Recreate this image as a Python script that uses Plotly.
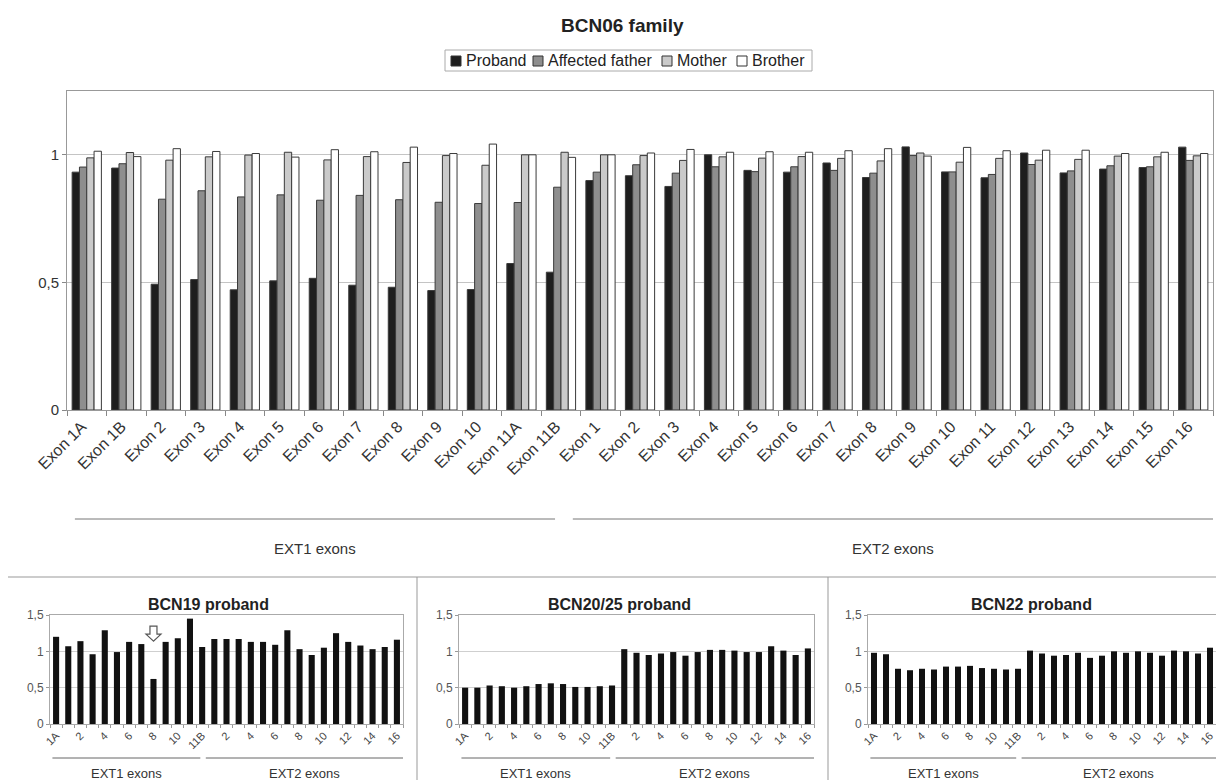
import plotly.graph_objects as go

# Exon names for the two genes
ext1_exons = ["1A", "1B", "2", "3", "4", "5", "6", "7", "8", "9", "10", "11A", "11B"]
ext2_exons = ["1", "2", "3", "4", "5", "6", "7", "8", "9", "10", "11", "12", "13", "14", "15", "16"]

# BCN06 family: relative dosage per exon (EXT1 exons followed by EXT2 exons)
proband = [0.932, 0.948, 0.493, 0.511, 0.471, 0.506, 0.516, 0.489, 0.481, 0.468, 0.472, 0.574, 0.540,
           0.899, 0.918, 0.876, 1.000, 0.939, 0.932, 0.968, 0.911, 1.031, 0.933, 0.910, 1.007, 0.929,
           0.944, 0.950, 1.030]
father = [0.952, 0.965, 0.826, 0.859, 0.835, 0.843, 0.822, 0.841, 0.824, 0.814, 0.809, 0.813, 0.873,
          0.932, 0.961, 0.928, 0.953, 0.934, 0.953, 0.939, 0.928, 0.997, 0.933, 0.923, 0.962, 0.937,
          0.957, 0.953, 0.978]
mother = [0.988, 1.009, 0.979, 0.992, 0.999, 1.010, 0.980, 0.993, 0.970, 0.997, 0.959, 1.000, 1.010,
          1.000, 0.997, 0.978, 0.992, 0.987, 0.993, 0.986, 0.976, 1.007, 0.971, 0.986, 0.979, 0.982,
          0.995, 0.992, 0.996]
brother = [1.014, 0.993, 1.024, 1.013, 1.005, 0.991, 1.020, 1.012, 1.030, 1.005, 1.042, 1.000, 0.990,
           1.000, 1.007, 1.021, 1.010, 1.012, 1.010, 1.016, 1.024, 0.995, 1.029, 1.016, 1.018, 1.018,
           1.005, 1.010, 1.005]

# Single probands
bcn19 = [1.20, 1.07, 1.14, 0.96, 1.29, 0.99, 1.13, 1.10, 0.62, 1.13, 1.18, 1.45, 1.06,
         1.17, 1.17, 1.17, 1.13, 1.13, 1.09, 1.29, 1.03, 0.95, 1.05, 1.25, 1.13, 1.08, 1.03, 1.06, 1.16]
bcn2025 = [0.50, 0.50, 0.53, 0.52, 0.50, 0.52, 0.55, 0.56, 0.55, 0.51, 0.51, 0.52, 0.53,
           1.03, 0.98, 0.95, 0.97, 0.99, 0.94, 0.99, 1.02, 1.02, 1.01, 0.99, 0.99, 1.07, 1.01, 0.95, 1.04]
bcn22 = [0.98, 0.96, 0.76, 0.74, 0.76, 0.75, 0.79, 0.79, 0.80, 0.77, 0.76, 0.75, 0.76,
         1.01, 0.97, 0.94, 0.95, 0.98, 0.91, 0.94, 1.00, 0.98, 1.00, 0.98, 0.94, 1.01, 1.00, 0.97, 1.05]

family_members = ["Proband", "Affected father", "Mother", "Brother"]
member_colors = ["#1e1e1e", "#8e8e8e", "#cacaca", "#ffffff"]

W, H = 1216, 780
FONT = "Liberation Sans, Arial, sans-serif"


def px_x(v):
    return v / W


def px_y(v):
    return 1 - v / H


cats = ["EXT1 " + e for e in ext1_exons] + ["EXT2 " + e for e in ext2_exons]
n1, n = len(ext1_exons), len(cats)
top_text = ["Exon " + e for e in ext1_exons + ext2_exons]
short_text = [e if i % 2 == 0 else "" for i, e in enumerate(ext1_exons + ext2_exons)]

fig = go.Figure()

for name, vals, col in zip(family_members, [proband, father, mother, brother], member_colors):
    fig.add_trace(go.Bar(x=cats, y=vals, name=name, showlegend=False,
                         marker=dict(color=col, line=dict(color="#3a3a3a", width=1)),
                         xaxis="x", yaxis="y"))

panels = [("BCN19 proband", bcn19, "2"), ("BCN20/25 proband", bcn2025, "3"), ("BCN22 proband", bcn22, "4")]
for title, vals, k in panels:
    fig.add_trace(go.Bar(x=cats, y=vals, width=0.5, showlegend=False, name=title,
                         marker=dict(color="#111111", line=dict(width=0)),
                         xaxis="x" + k, yaxis="y" + k))

layout = dict(
    template="none",
    width=W, height=H,
    margin=dict(l=0, r=0, t=0, b=0),
    paper_bgcolor="white", plot_bgcolor="white",
    font=dict(family=FONT, color="#222"),
    separators=",.",
    barmode="group", bargap=0.26, bargroupgap=0,
    showlegend=False,
)

# main chart axes
layout["xaxis"] = dict(domain=[px_x(67), px_x(1213)], type="category", tickmode="array", tickvals=cats,
                       ticktext=top_text, tickangle=-45, tickson="boundaries", ticks="outside", ticklen=5,
                       tickcolor="#888", showline=True, mirror=True, linecolor="#999", linewidth=1,
                       showgrid=False, automargin=False, tickfont=dict(size=16, color="#333"),
                       ticklabelshift=-5, range=[-0.5, n - 0.5], anchor="y")
layout["yaxis"] = dict(domain=[px_y(410), px_y(91)], range=[0, 1.25], tickvals=[0, 0.5, 1], ticks="outside",
                       ticklen=4, tickcolor="#888", showline=True, mirror=True, linecolor="#999", linewidth=1,
                       showgrid=True, gridcolor="#c4c4c4", zeroline=False, automargin=False,
                       tickfont=dict(size=15, color="#333"), anchor="x")

panel_x = {"2": (50, 403), "3": (459, 814), "4": (868, 1216)}
panel_title_x = {"2": 208, "3": 619, "4": 1031}
for title, vals, k in panels:
    x0, x1 = panel_x[k]
    layout["xaxis" + k] = dict(domain=[px_x(x0), px_x(x1)], type="category", tickmode="array", tickvals=cats,
                               ticktext=short_text, tickangle=-45, tickson="boundaries", ticks="outside",
                               ticklen=3, tickcolor="#999", showline=True, mirror=True, linecolor="#aaa",
                               linewidth=1, showgrid=False, automargin=False,
                               tickfont=dict(size=11, color="#444"), range=[-0.5, n - 0.5], anchor="y" + k)
    layout["yaxis" + k] = dict(domain=[px_y(724), px_y(615)], range=[0, 1.5], tickvals=[0, 0.5, 1, 1.5],
                               ticks="outside", ticklen=3, tickcolor="#999", showline=True, mirror=True,
                               linecolor="#aaa", linewidth=1, showgrid=True, gridcolor="#cfcfcf",
                               zeroline=False, automargin=False, tickfont=dict(size=12, color="#555"),
                               anchor="x" + k)

fig.update_layout(**layout)

annotations = [dict(text="<b>BCN06 family</b>", x=px_x(622), y=px_y(26), xref="paper", yref="paper",
                    xanchor="center", yanchor="middle", showarrow=False, font=dict(size=19, color="#222"))]
shapes = []

# legend box with colour keys
shapes.append(dict(type="rect", xref="paper", yref="paper", x0=px_x(445), x1=px_x(812),
                   y0=px_y(71), y1=px_y(50), line=dict(color="#aaa", width=1), fillcolor="white"))
key_x = [451, 533, 662, 737]
for name, col, kx in zip(family_members, member_colors, key_x):
    shapes.append(dict(type="rect", xref="paper", yref="paper", x0=px_x(kx), x1=px_x(kx + 10),
                       y0=px_y(66), y1=px_y(56), line=dict(color="#333", width=1), fillcolor=col))
    annotations.append(dict(text=name, x=px_x(kx + 13), y=px_y(61), xref="paper", yref="paper",
                            xanchor="left", yanchor="middle", showarrow=False,
                            font=dict(size=16, color="#222")))


def gene_brackets(xref, y_line, y_text, fsize, color):
    spans = [("EXT1 exons", -0.3, n1 - 1.15), ("EXT2 exons", n1 - 0.7, n - 0.5)]
    for label, a, b in spans:
        shapes.append(dict(type="line", xref=xref, yref="paper", x0=a, x1=b, y0=y_line, y1=y_line,
                           line=dict(color=color, width=1)))
        annotations.append(dict(text=label, xref=xref, yref="paper", x=(a + b) / 2, y=y_text,
                                xanchor="center", yanchor="middle", showarrow=False,
                                font=dict(size=fsize, color="#333")))


gene_brackets("x", px_y(519), px_y(548), 15, "#777")
for title, vals, k in panels:
    gene_brackets("x" + k, px_y(758), px_y(773), 13, "#666")
    annotations.append(dict(text="<b>%s</b>" % title, x=px_x(panel_title_x[k]), y=px_y(604),
                            xref="paper", yref="paper", xanchor="center", yanchor="middle",
                            showarrow=False, font=dict(size=16, color="#222")))

# hollow block arrow pointing at the deleted exon in BCN19 (pixel-sized, anchored on the category)
low_idx = min(range(n), key=lambda i: bcn19[i])
shapes.append(dict(type="path", xref="x2", yref="y2", xsizemode="pixel", ysizemode="pixel",
                   xanchor=low_idx, yanchor=1.14,
                   path="M 0 0 L -7.5 7 L -3.5 7 L -3.5 15 L 3.5 15 L 3.5 7 L 7.5 7 Z",
                   fillcolor="white", line=dict(color="#555", width=1.2)))

# panel separators
shapes.append(dict(type="line", xref="paper", yref="paper", x0=px_x(8), x1=1, y0=px_y(577), y1=px_y(577),
                   line=dict(color="#999", width=1)))
for xs in (417, 828):
    shapes.append(dict(type="line", xref="paper", yref="paper", x0=px_x(xs), x1=px_x(xs), y0=px_y(577), y1=0,
                       line=dict(color="#999", width=1)))

fig.update_layout(annotations=annotations, shapes=shapes)
fig.write_html("out.html")
